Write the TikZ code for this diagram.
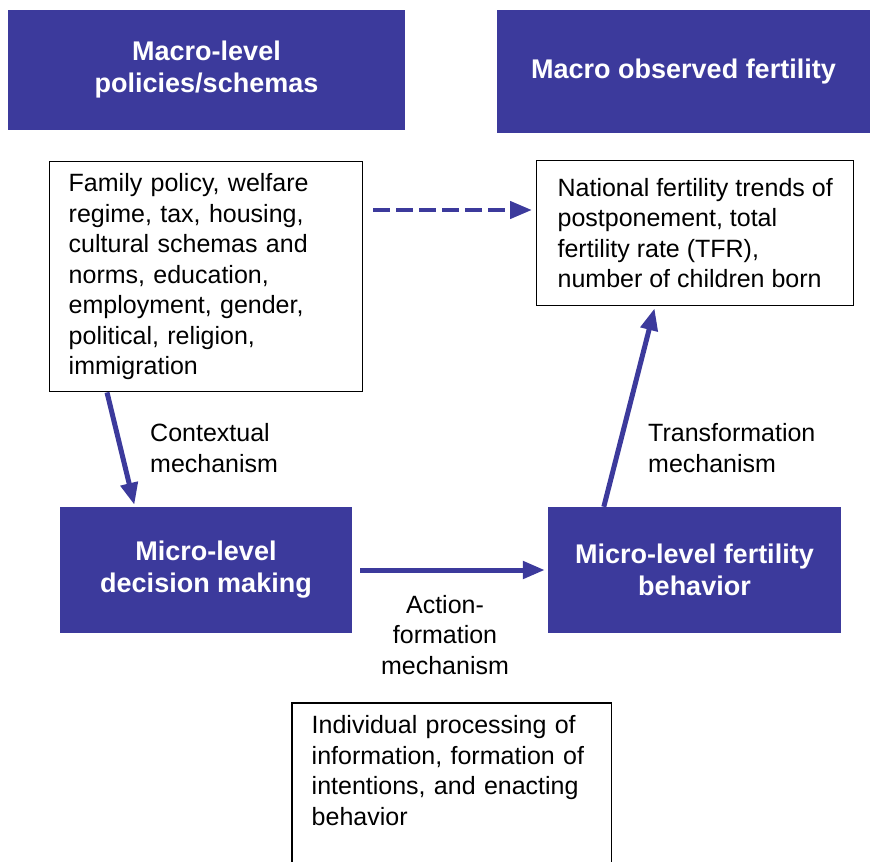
\documentclass[tikz,border=0pt]{standalone}
\usepackage{fontspec}
\setmainfont{Liberation Sans}
\usetikzlibrary{ arrows.meta, % For the fat triangle tips
               }
\definecolor{schemablue}{RGB}{60,58,156}

\begin{document}
\begin{tikzpicture}[x=1pt, y=-1pt,
    bluebox/.style={fill=schemablue, text=white, inner sep=0pt, align=center,
                    font=\fontsize{27}{32}\selectfont\bfseries},
    textbox/.style={draw=black, line width=1.4pt, anchor=north west, align=left,
                    inner xsep=19pt, font=\fontsize{25}{30.5}\selectfont},
    label/.style={inner sep=0pt, font=\fontsize{25}{30.5}\selectfont},
    mecharrow/.style={draw=schemablue, line width=5pt,
                      -{Triangle[length=22pt, width=17pt]}},
  ]
  \useasboundingbox (0,0) rectangle (885,861);

  % the four blue blocks
  \node[bluebox, minimum width=397pt, minimum height=120pt] (macroL) at (206.5,70)
    {Macro-level\\policies/schemas};
  \node[bluebox, minimum width=373pt, minimum height=123pt] (macroR) at (683.5,71.5)
    {Macro observed fertility};
  \node[bluebox, minimum width=292pt, minimum height=126pt] (microL) at (206,570)
    {Micro-level\\decision making};
  \node[bluebox, minimum width=293pt, minimum height=126pt] (microR) at (694.5,570)
    {Micro-level fertility\\behavior};

  % the white text boxes
  \node[textbox, text width=275pt, minimum height=230pt] (famBox) at (49,161)
    {Family policy, welfare\\regime, tax, housing,\\cultural schemas and\\norms, education,\\employment, gender,\\political, religion,\\immigration};
  \node[textbox, minimum width=317pt, minimum height=145pt] (natBox) at (536,160)
    {National fertility trends of\\postponement, total\\fertility rate (TFR),\\number of children born};
  \node[textbox, draw=none, text width=280pt, inner ysep=12pt] (indBox) at (292,703)
    {Individual processing of\\information, formation of\\intentions, and enacting\\behavior};
  \coordinate (pageEnd) at (0,890);
  \draw[line width=1.4pt] (indBox.north west) rectangle (indBox.north east |- pageEnd);

  % mechanism labels
  \node[label, anchor=west, align=left] (ctxLabel) at (150,448) {Contextual\\mechanism};
  \node[label, anchor=west, align=left] (trfLabel) at (648,448) {Transformation\\mechanism};
  \node[label, align=center] (actLabel) at (445,635) {Action-\\formation\\mechanism};

  % arrows
  \coordinate (dashY) at (0,210);
  \draw[mecharrow, line width=4.5pt, dash pattern=on 17pt off 6pt,
        shorten <=10pt, shorten >=4pt] (famBox.east |- dashY) -- (natBox.west |- dashY);
  \draw[mecharrow, shorten >=2pt] ([xshift=58pt]famBox.south west) -- ([xshift=75pt]microL.north west);
  \draw[mecharrow, shorten <=8pt, shorten >=3pt] (microL.east) -- (microR.west);
  \draw[mecharrow, shorten >=2pt] ([xshift=56pt]microR.north west) -- ([xshift=119pt]natBox.south west);
\end{tikzpicture}
\end{document}
